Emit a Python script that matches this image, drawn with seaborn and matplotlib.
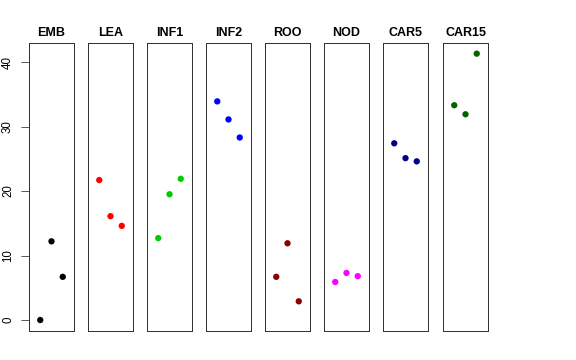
import pandas as pd
import seaborn as sns
import matplotlib.pyplot as plt

tissues = ["EMB", "LEA", "INF1", "INF2", "ROO", "NOD", "CAR5", "CAR15"]
colors = ["black", "red", "#00CD00", "blue", "#8B0000", "magenta", "#00008B", "#006400"]
replicate = [1, 2, 3]
emb = [0.0, 12.2, 6.7]
lea = [21.7, 16.1, 14.6]
inf1 = [12.7, 19.5, 21.9]
inf2 = [33.9, 31.1, 28.3]
roo = [6.7, 11.9, 2.9]
nod = [5.9, 7.3, 6.8]
car5 = [27.4, 25.1, 24.6]
car15 = [33.3, 31.9, 41.3]
values = [emb, lea, inf1, inf2, roo, nod, car5, car15]

sns.set_style("white")
plt.rcParams["font.family"] = ["Liberation Sans", "DejaVu Sans"]

fig = plt.figure(figsize=(8, 5), dpi=72)
W, H = 576, 360
lefts = [29, 88, 147, 206, 265, 324, 383, 443]
for i, (name, vals, col) in enumerate(zip(tissues, values, colors)):
    ax = fig.add_axes([lefts[i] / W, (H - 331) / H, 45 / W, 288 / H])
    df = pd.DataFrame({"rep": replicate, "value": vals})
    sns.scatterplot(data=df, x="rep", y="value", color=col, s=40,
                    edgecolor="none", ax=ax)
    ax.set_xlim(0, 4)
    ax.set_ylim(-1.7, 42.95)
    ax.set_xticks([])
    ax.set_xlabel("")
    ax.set_ylabel("")
    ax.set_title(name, fontsize=12.5, fontweight="bold", pad=7, color="black")
    for sp in ax.spines.values():
        sp.set_visible(True)
        sp.set_color("#333333")
        sp.set_linewidth(1)
    if i == 0:
        ax.set_yticks([0, 10, 20, 30, 40])
        ax.tick_params(axis="y", left=True, length=8, width=0.8, color="#333333",
                       labelsize=11.5, labelcolor="black", pad=7)
        for lb in ax.get_yticklabels():
            lb.set_rotation(90)
            lb.set_va("center")
    else:
        ax.set_yticks([])

fig.savefig("out.png", dpi=72)
